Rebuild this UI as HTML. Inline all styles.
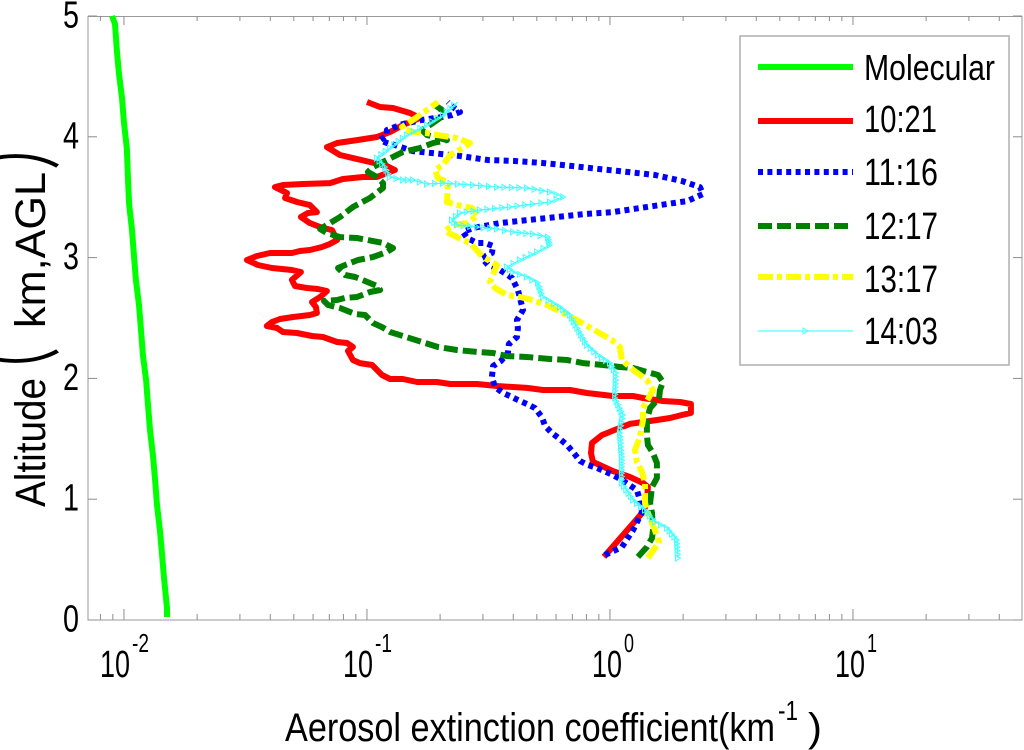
<!DOCTYPE html>
<html lang="en">
<head>
<meta charset="utf-8">
<title>Aerosol extinction coefficient profile</title>
<style>
html,body{margin:0;padding:0;background:#fff;}
svg{display:block;}
text{font-family:"Liberation Sans","Noto Sans CJK SC",sans-serif;fill:#000;}
</style>
</head>
<body>
<svg id="chart" xmlns="http://www.w3.org/2000/svg" width="1024" height="750" viewBox="0 0 1024 750">
  <rect x="0" y="0" width="1024" height="750" fill="#fff"/>
  <rect x="88" y="16.5" width="934" height="603.5" fill="none" stroke="#9a9a9a" stroke-width="1"/>
  <g id="ticks"></g>
  <g id="series" filter="url(#soft)"></g>
  <defs><filter id="soft" x="-5%" y="-5%" width="110%" height="110%"><feGaussianBlur stdDeviation="0.3"/></filter></defs>
  <g id="tick-labels"></g>

  <g>
    <text transform="translate(45,507) rotate(-90)" font-size="43" textLength="129" lengthAdjust="spacingAndGlyphs">Altitude</text>
    <text transform="translate(50,399) rotate(-90) scale(1,1.75)" font-size="52" style="font-family:'Noto Sans CJK SC',sans-serif">（</text>
    <text transform="translate(45,328) rotate(-90)" font-size="43" textLength="156" lengthAdjust="spacingAndGlyphs">km,AGL</text>
    <text transform="translate(50,170) rotate(-90) scale(1,1.75)" font-size="52" style="font-family:'Noto Sans CJK SC',sans-serif">）</text>
  </g>
  <g>
    <text x="285" y="741" font-size="40" textLength="490" lengthAdjust="spacingAndGlyphs">Aerosol extinction coefficient(km</text>
    <text x="778" y="720" font-size="28" textLength="20" lengthAdjust="spacingAndGlyphs">-1</text>
    <text x="808" y="741" font-size="40" textLength="14" lengthAdjust="spacingAndGlyphs">)</text>
  </g>

  <g>
    <rect x="740" y="36" width="269" height="329" fill="#fff" stroke="#b4b4b4" stroke-width="1.6"/>
    <g>
      <line x1="758" x2="853" y1="67" y2="67" stroke="#00ff00" stroke-width="6"/>
      <text x="864" y="80" font-size="36" textLength="131" lengthAdjust="spacingAndGlyphs">Molecular</text>
    </g>
    <g>
      <line x1="758" x2="853" y1="121" y2="121" stroke="#ff0000" stroke-width="6"/>
      <text x="864" y="132" font-size="38" textLength="73" lengthAdjust="spacingAndGlyphs">10:21</text>
    </g>
    <g>
      <line x1="758" x2="853" y1="172" y2="172" stroke="#0000ff" stroke-width="6" stroke-dasharray="5 4.4"/>
      <text x="864" y="185" font-size="38" textLength="74" lengthAdjust="spacingAndGlyphs">11:16</text>
    </g>
    <g>
      <line x1="758" x2="853" y1="226" y2="226" stroke="#008000" stroke-width="6" stroke-dasharray="14 5"/>
      <text x="864" y="239" font-size="38" textLength="74" lengthAdjust="spacingAndGlyphs">12:17</text>
    </g>
    <g>
      <line x1="758" x2="853" y1="277" y2="277" stroke="#ffff00" stroke-width="6" stroke-dasharray="15 4 5 4"/>
      <text x="864" y="292" font-size="38" textLength="74" lengthAdjust="spacingAndGlyphs">13:17</text>
    </g>
    <g>
      <line x1="758" x2="853" y1="331" y2="331" stroke="#55ffff" stroke-width="1.2"/>
      <polygon points="803,328 803,334 808,331" fill="none" stroke="#55ffff" stroke-width="1"/>
      <text x="864" y="344" font-size="38" textLength="74" lengthAdjust="spacingAndGlyphs">14:03</text>
    </g>
  </g>
</svg>

<script>
const yTickValues = [0, 1, 2, 3, 4, 5];
const xDecades = [-2, -1, 0, 1];
const xMinorMultipliers = [2, 3, 4, 5, 6, 7, 8, 9];

const molecularBaseAlt = 0.025;
const molecularAlt = [0.099,0.339,0.555,0.745,0.952,1.159,1.366,1.573,1.780,1.987,2.194,2.401,2.608,2.815,3.022,3.228,3.444,3.667,3.899,4.114,4.321,4.528,4.710,4.934,5.0];
const molecularLogExt = [-1.823,-1.835,-1.844,-1.852,-1.864,-1.872,-1.881,-1.893,-1.901,-1.909,-1.922,-1.930,-1.938,-1.951,-1.959,-1.967,-1.979,-1.984,-1.988,-2.000,-2.008,-2.021,-2.029,-2.037,-2.049];

const alt1021 = [0.522,0.894,0.969,1.101,1.134,1.184,1.233,1.275,1.308,1.382,1.465,1.531,1.581,1.623,1.656,1.672,1.697,1.714,1.788,1.805,1.813,1.838,1.854,1.854,1.879,1.904,1.904,1.921,1.937,1.954,1.954,1.970,1.970,1.995,1.995,2.028,2.111,2.127,2.152,2.227,2.260,2.293,2.301,2.343,2.351,2.376,2.384,2.417,2.434,2.467,2.492,2.508,2.525,2.541,2.591,2.632,2.674,2.723,2.740,2.748,2.765,2.815,2.881,2.897,2.914,2.939,2.980,3.013,3.038,3.038,3.055,3.063,3.088,3.113,3.146,3.228,3.253,3.286,3.336,3.369,3.377,3.435,3.460,3.493,3.535,3.584,3.601,3.609,3.617,3.651,3.667,3.667,3.725,3.758,3.791,3.824,3.849,3.915,3.949,3.973,3.998,4.040,4.098,4.156,4.197,4.238,4.247,4.288];
const logExt1021 = [-0.025,0.136,0.152,0.156,0.136,0.082,0.012,-0.033,-0.070,-0.078,-0.074,-0.033,0.029,0.082,0.193,0.247,0.296,0.333,0.333,0.288,0.218,0.136,0.095,0.012,-0.095,-0.165,-0.276,-0.342,-0.465,-0.547,-0.658,-0.712,-0.794,-0.852,-0.905,-0.938,-0.979,-1.029,-1.058,-1.078,-1.058,-1.082,-1.123,-1.181,-1.226,-1.288,-1.346,-1.370,-1.412,-1.391,-1.358,-1.304,-1.235,-1.206,-1.210,-1.226,-1.193,-1.165,-1.202,-1.247,-1.296,-1.309,-1.272,-1.309,-1.391,-1.449,-1.494,-1.453,-1.399,-1.309,-1.276,-1.235,-1.185,-1.152,-1.123,-1.144,-1.193,-1.235,-1.272,-1.243,-1.206,-1.235,-1.288,-1.337,-1.329,-1.379,-1.346,-1.263,-1.152,-1.099,-1.016,-0.959,-0.885,-0.918,-0.988,-1.058,-1.111,-1.165,-1.123,-1.041,-0.959,-0.905,-0.852,-0.782,-0.823,-0.893,-0.946,-1.000];

const alt1116 = [0.538,0.604,0.745,0.894,0.993,1.076,1.159,1.200,1.258,1.283,1.316,1.391,1.449,1.498,1.548,1.606,1.680,1.755,1.788,1.821,1.854,1.879,1.929,2.012,2.103,2.144,2.210,2.285,2.343,2.417,2.483,2.566,2.732,2.831,2.914,2.939,2.997,3.038,3.096,3.121,3.121,3.162,3.212,3.245,3.286,3.311,3.336,3.361,3.377,3.411,3.444,3.468,3.526,3.584,3.634,3.684,3.709,3.733,3.758,3.783,3.800,3.808,3.841,3.857,3.874,3.882,3.932,3.949,3.973,4.015,4.056,4.106,4.139,4.164,4.180,4.205,4.247,4.288];
const logExt1116 = [-0.021,0.049,0.095,0.132,0.123,0.111,0.049,0.012,-0.053,-0.091,-0.123,-0.152,-0.177,-0.206,-0.239,-0.267,-0.280,-0.309,-0.342,-0.379,-0.412,-0.440,-0.473,-0.486,-0.481,-0.449,-0.420,-0.416,-0.383,-0.379,-0.383,-0.358,-0.379,-0.403,-0.465,-0.502,-0.527,-0.486,-0.481,-0.514,-0.547,-0.588,-0.605,-0.564,-0.453,-0.337,-0.218,-0.103,0.012,0.123,0.235,0.317,0.383,0.370,0.296,0.185,0.074,-0.041,-0.156,-0.276,-0.391,-0.502,-0.617,-0.691,-0.774,-0.811,-0.885,-0.918,-0.946,-0.918,-0.918,-0.852,-0.774,-0.691,-0.650,-0.617,-0.646,-0.667];

const alt1217 = [0.522,0.604,0.679,0.745,0.886,0.969,1.101,1.175,1.300,1.382,1.449,1.531,1.656,1.755,1.838,1.904,1.970,2.028,2.053,2.086,2.094,2.111,2.127,2.152,2.161,2.177,2.185,2.210,2.219,2.235,2.260,2.301,2.351,2.384,2.425,2.459,2.525,2.533,2.583,2.608,2.641,2.649,2.666,2.674,2.715,2.732,2.765,2.806,2.839,2.856,2.914,2.939,2.980,3.005,3.046,3.079,3.121,3.137,3.162,3.170,3.204,3.237,3.286,3.336,3.419,3.493,3.576,3.617,3.667,3.709,3.750,3.808,3.874,3.907,3.949,3.973,4.015,4.056,4.098,4.156,4.222,4.280];
const logExt1217 = [0.115,0.152,0.173,0.177,0.173,0.165,0.173,0.193,0.193,0.177,0.156,0.152,0.152,0.165,0.202,0.206,0.218,0.198,0.152,0.095,0.041,-0.029,-0.111,-0.177,-0.247,-0.342,-0.424,-0.481,-0.547,-0.630,-0.708,-0.774,-0.852,-0.905,-0.938,-0.975,-1.008,-1.049,-1.111,-1.160,-1.177,-1.123,-1.090,-1.041,-0.988,-0.946,-0.959,-1.008,-1.049,-1.090,-1.119,-1.090,-1.037,-0.975,-0.918,-0.893,-0.934,-0.975,-1.041,-1.111,-1.165,-1.193,-1.152,-1.111,-1.058,-0.988,-0.934,-0.934,-0.959,-0.996,-0.975,-0.918,-0.852,-0.782,-0.728,-0.671,-0.753,-0.774,-0.741,-0.700,-0.691,-0.733];

const alt1317 = [0.513,0.646,0.745,0.886,0.969,1.134,1.225,1.308,1.407,1.515,1.656,1.755,1.904,1.987,2.070,2.152,2.260,2.318,2.483,2.566,2.608,2.649,2.674,2.690,2.748,2.798,2.939,3.005,3.121,3.170,3.220,3.270,3.286,3.353,3.411,3.435,3.460,3.576,3.626,3.659,3.725,3.767,3.849,3.907,3.949,3.990,4.015,4.031,4.040,4.081,4.139,4.222,4.288];
const logExt1317 = [0.156,0.202,0.185,0.156,0.144,0.144,0.132,0.111,0.103,0.123,0.136,0.136,0.177,0.152,0.095,0.049,0.041,0.008,-0.136,-0.218,-0.259,-0.321,-0.370,-0.424,-0.473,-0.494,-0.465,-0.523,-0.576,-0.630,-0.679,-0.646,-0.588,-0.543,-0.568,-0.626,-0.671,-0.667,-0.671,-0.708,-0.720,-0.687,-0.658,-0.605,-0.576,-0.630,-0.712,-0.753,-0.815,-0.856,-0.811,-0.753,-0.708];

const alt1403 = [0.513,0.662,0.762,0.811,0.911,0.993,1.134,1.349,1.548,1.697,1.838,2.045,2.127,2.194,2.276,2.525,2.591,2.674,2.790,2.839,2.881,2.922,2.980,3.046,3.104,3.170,3.195,3.212,3.237,3.253,3.270,3.311,3.369,3.394,3.419,3.444,3.460,3.502,3.543,3.576,3.584,3.601,3.617,3.609,3.642,3.642,3.667,3.750,3.824,3.907,4.015,4.098,4.180,4.288];
const logExt1403 = [0.280,0.276,0.235,0.185,0.144,0.095,0.049,0.049,0.041,0.053,0.021,0.025,0.000,-0.049,-0.095,-0.165,-0.206,-0.276,-0.296,-0.342,-0.399,-0.424,-0.370,-0.300,-0.247,-0.255,-0.317,-0.399,-0.465,-0.547,-0.630,-0.650,-0.617,-0.535,-0.412,-0.317,-0.247,-0.193,-0.247,-0.342,-0.465,-0.564,-0.687,-0.753,-0.811,-0.852,-0.905,-0.926,-0.959,-0.905,-0.835,-0.753,-0.687,-0.626];

const SVG_NS = 'http://www.w3.org/2000/svg';
const plotLeft = 88, plotRight = 1022, plotTop = 16, plotBottom = 620;
const xDomainMin = -2.148, xDomainMax = 1.6956, yDomainMin = 0, yDomainMax = 5;

function xScale(logValue) {
  return plotLeft + (logValue - xDomainMin) / (xDomainMax - xDomainMin) * (plotRight - plotLeft);
}
function yScale(alt) {
  return plotBottom - (alt - yDomainMin) / (yDomainMax - yDomainMin) * (plotBottom - plotTop);
}
function make(tag, attrs, parent) {
  const el = document.createElementNS(SVG_NS, tag);
  for (const key in attrs) el.setAttribute(key, attrs[key]);
  parent.appendChild(el);
  return el;
}
function linePath(alts, logs) {
  return alts.map(function (a, i) {
    return (i ? 'L' : 'M') + xScale(logs[i]).toFixed(1) + ' ' + yScale(a).toFixed(1);
  }).join(' ');
}
function stepPath(baseAlt, alts, logs) {
  let d = 'M' + xScale(logs[0]).toFixed(1) + ' ' + yScale(baseAlt).toFixed(1);
  alts.forEach(function (a, i) {
    d += ' L' + xScale(logs[i]).toFixed(1) + ' ' + yScale(a).toFixed(1);
  });
  return d;
}

const ticksGroup = document.getElementById('ticks');
const labelsGroup = document.getElementById('tick-labels');
const seriesGroup = document.getElementById('series');
const tickStroke = '#8c8c8c';

yTickValues.forEach(function (v) {
  const y = yScale(v);
  const left = make('line', { x1: plotLeft, x2: plotLeft + 9, y1: y, y2: y, stroke: tickStroke, 'stroke-width': 1 }, ticksGroup);
  
  
  const right = make('line', { x1: plotRight - 9, x2: plotRight, y1: y, y2: y, stroke: tickStroke, 'stroke-width': 1 }, ticksGroup);
  
  
  const label = make('text', { x: 63, y: y + 11.5, 'font-size': 38, textLength: 16, lengthAdjust: 'spacingAndGlyphs' }, labelsGroup);
  
  
  label.textContent = String(v);
});

xDecades.forEach(function (decade) {
  const x = xScale(decade);
  [[plotBottom, plotBottom - 11], [plotTop, plotTop + 9]].forEach(function (pair) {
    const tick = make('line', { x1: x, x2: x, y1: pair[0], y2: pair[1], stroke: tickStroke, 'stroke-width': 1 }, ticksGroup);
    
    
  });
  const start = x + (decade < 0 ? -24 : -18);
  const base = make('text', { x: start, y: 677, 'font-size': 38, textLength: 30, lengthAdjust: 'spacingAndGlyphs' }, labelsGroup);
  
  
  base.textContent = '10';
  const exp = make('text', { x: start + 32, y: 652, 'font-size': 26, textLength: decade < 0 ? 17 : 10, lengthAdjust: 'spacingAndGlyphs' }, labelsGroup);
  
  
  exp.textContent = String(decade);
});

[-3].concat(xDecades).forEach(function (decade) {
  xMinorMultipliers.forEach(function (m) {
    const logValue = decade + Math.log10(m);
    if (logValue < xDomainMin || logValue > xDomainMax) return;
    const x = xScale(logValue);
    [[plotBottom, plotBottom - 6], [plotTop, plotTop + 5]].forEach(function (pair) {
      const tick = make('line', { x1: x, x2: x, y1: pair[0], y2: pair[1], stroke: tickStroke, 'stroke-width': 1 }, ticksGroup);
      
      
    });
  });
});

const molecularPath = make('path', { d: stepPath(molecularBaseAlt, molecularAlt, molecularLogExt), fill: 'none', stroke: '#00ff00', 'stroke-width': 6 }, seriesGroup);



const redPath = make('path', { d: linePath(alt1021, logExt1021), fill: 'none', stroke: '#ff0000', 'stroke-width': 6, 'stroke-linejoin': 'round' }, seriesGroup);



const bluePath = make('path', { d: linePath(alt1116, logExt1116), fill: 'none', stroke: '#0000ff', 'stroke-width': 6, 'stroke-dasharray': '5 4.4', 'stroke-linejoin': 'round' }, seriesGroup);



const greenPath = make('path', { d: linePath(alt1217, logExt1217), fill: 'none', stroke: '#008000', 'stroke-width': 6, 'stroke-dasharray': '14 5', 'stroke-linejoin': 'round' }, seriesGroup);



const yellowPath = make('path', { d: linePath(alt1317, logExt1317), fill: 'none', stroke: '#ffff00', 'stroke-width': 6, 'stroke-dasharray': '15 4 5 4', 'stroke-linejoin': 'round' }, seriesGroup);



const cyanPath = make('path', { d: linePath(alt1403, logExt1403), fill: 'none', stroke: '#44ffff', 'stroke-width': 1.2, 'stroke-linejoin': 'round' }, seriesGroup);



const cyanMarkers = make('g', { fill: 'none', stroke: '#44ffff', 'stroke-width': 1 }, seriesGroup);


let markerPath = '';
for (let i = 0; i < alt1403.length - 1; i++) {
  const x0 = xScale(logExt1403[i]), y0 = yScale(alt1403[i]);
  const x1 = xScale(logExt1403[i + 1]), y1 = yScale(alt1403[i + 1]);
  const count = Math.max(1, Math.ceil(Math.max(Math.abs(x1 - x0) / 9.5, Math.abs(y1 - y0) / 3.6)));
  for (let k = 0; k < count; k++) {
    const mx = x0 + (x1 - x0) * k / count;
    const my = y0 + (y1 - y0) * k / count;
    markerPath += 'M' + (mx - 2.5).toFixed(1) + ' ' + (my - 3).toFixed(1) + 'L' + (mx - 2.5).toFixed(1) + ' ' + (my + 3).toFixed(1) + 'L' + (mx + 2.5).toFixed(1) + ' ' + my.toFixed(1) + 'Z';
  }
}
const cyanMarkerShapes = make('path', { d: markerPath }, cyanMarkers);


</script>
</body>
</html>
